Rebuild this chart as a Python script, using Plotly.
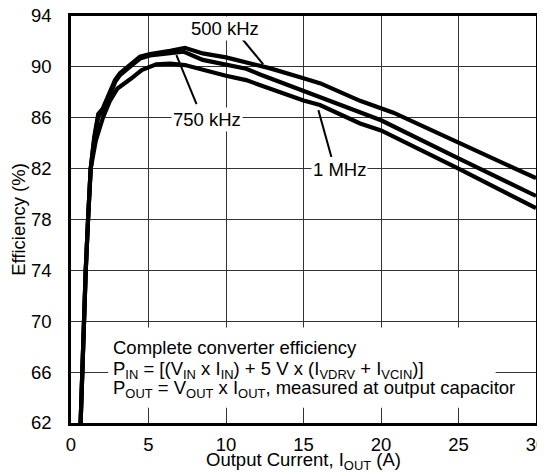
import plotly.graph_objects as go

# 500 kHz curve
x_500 = [0.62, 0.8, 0.95, 1.1, 1.27, 1.5, 1.76, 2.04, 2.5, 2.84, 3.16, 3.6, 4.45, 5.1, 5.74, 6.4, 7.35, 8.5, 10, 11.3, 12.8, 15, 16.1, 18.65, 20, 20.8, 24.9, 30]
y_500 = [62, 70, 74, 78, 82, 84.5, 86.3, 86.7, 87.9, 88.96, 89.5, 89.93, 90.8, 91.0, 91.1, 91.27, 91.5, 91.06, 90.75, 90.35, 89.9, 89.1, 88.7, 87.33, 86.8, 86.4, 84.1, 81.25]

# 750 kHz curve
x_750 = [0.62, 0.8, 0.95, 1.1, 1.27, 1.5, 1.76, 2.04, 2.5, 2.84, 3.16, 3.6, 4.45, 5.1, 5.74, 6.4, 7.25, 8.5, 10, 11.3, 12.2, 15, 16.06, 18.65, 20, 25, 30]
y_750 = [62, 70, 74, 78, 82, 84.3, 86.1, 86.5, 87.7, 88.8, 89.35, 89.8, 90.65, 90.9, 91.0, 91.06, 91.2, 90.55, 90.2, 89.85, 89.4, 88.1, 87.65, 86.46, 85.8, 82.8, 79.85]

# 1 MHz curve
x_1m = [0.62, 0.8, 0.95, 1.1, 1.27, 1.6, 2.06, 2.5, 3.0, 3.9, 4.56, 5.5, 6.4, 7.35, 8.5, 10, 11.3, 12.2, 15, 16.06, 18.65, 20, 25, 30]
y_1m = [62, 70, 74, 78, 82, 84.2, 86, 87.3, 88.3, 89.1, 89.75, 90.2, 90.25, 90.14, 89.75, 89.3, 88.96, 88.57, 87.35, 87.0, 85.55, 85.0, 82.0, 78.9]

x_ticks = [0, 5, 10, 15, 20, 25, 30]
y_ticks = [62, 66, 70, 74, 78, 82, 86, 90, 94]

FONT = "Liberation Sans, Arial, Helvetica, sans-serif"
FS = 18.5

fig = go.Figure()
for xs, ys, name in [(x_500, y_500, "500 kHz"), (x_750, y_750, "750 kHz"), (x_1m, y_1m, "1 MHz")]:
    fig.add_trace(go.Scatter(x=xs, y=ys, mode="lines", name=name,
                             line=dict(color="black", width=4.2), showlegend=False))

# white box behind the note text (covers grid only)
fig.add_shape(type="rect", x0=2.4, x1=27.4, y0=63.2, y1=69.5, xref="x", yref="y",
              fillcolor="white", line=dict(width=0), layer="between")

# leader lines
for (x0, y0, x1, y1) in [(11.0, 92.27, 12.4, 90.2), (8.1, 87.07, 6.8, 90.93), (16.8, 82.92, 15.96, 86.6)]:
    fig.add_shape(type="line", x0=x0, y0=y0, x1=x1, y1=y1, xref="x", yref="y",
                  line=dict(color="black", width=2))

labels = [("500 kHz", 9.94, 92.98), ("750 kHz", 8.8, 85.87), ("1 MHz", 17.35, 81.95)]
for txt, lx, ly in labels:
    fig.add_annotation(x=lx, y=ly, text=txt, showarrow=False, xref="x", yref="y",
                       font=dict(size=FS, color="black", family=FONT),
                       bgcolor="white", borderpad=1)

notes = [
    ("Complete converter efficiency", 67.94),
    ("P<sub>IN</sub> = [(V<sub>IN</sub> x I<sub>IN</sub>) + 5 V x (I<sub>VDRV</sub> + I<sub>VCIN</sub>)]", 66.15),
    ("P<sub>OUT</sub> = V<sub>OUT</sub> x I<sub>OUT</sub>, measured at output capacitor", 64.7),
]
for txt, ny in notes:
    fig.add_annotation(x=2.55, y=ny, text=txt, showarrow=False, xref="x", yref="y",
                       xanchor="left", yanchor="middle", align="left",
                       font=dict(size=FS, color="black", family=FONT))

# page body adds an 8 px offset; compensate in size and margins
fig.update_layout(
    width=537, height=465,
    margin=dict(l=63, r=9, t=8, b=50),
    paper_bgcolor="white", plot_bgcolor="white",
    font=dict(family=FONT, size=FS, color="black"),
)
fig.update_xaxes(range=[0, 30], tickvals=x_ticks, ticktext=[str(v) for v in x_ticks],
                 showgrid=True, gridcolor="#333333", gridwidth=1.4,
                 showline=True, mirror=True, linecolor="black", linewidth=2.5,
                 ticks="", ticklabelstandoff=3, zeroline=False, automargin=False,
                 ticklabeloverflow="allow",
                 title=dict(text="Output Current, I<sub>OUT</sub> (A)", standoff=18,
                            font=dict(size=FS)))
fig.update_yaxes(range=[62, 94], tickvals=y_ticks, ticktext=[str(v) for v in y_ticks],
                 showgrid=True, gridcolor="#333333", gridwidth=1.4,
                 showline=True, mirror=True, linecolor="black", linewidth=2.5,
                 ticks="", ticklabelstandoff=13, zeroline=False, automargin=False,
                 ticklabeloverflow="allow",
                 title=dict(text="Efficiency (%)", standoff=11, font=dict(size=FS)))

fig.write_html("out.html")
